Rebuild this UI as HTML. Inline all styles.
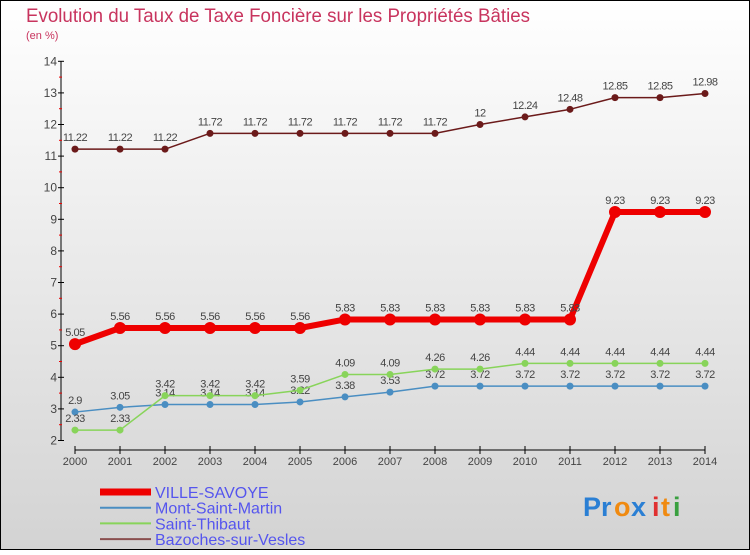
<!DOCTYPE html>
<html><head><meta charset="utf-8"><style>
html,body{margin:0;padding:0;}
body{width:750px;height:550px;overflow:hidden;font-family:"Liberation Sans",sans-serif;}
</style></head><body>
<svg id="chart" width="750" height="550" xmlns="http://www.w3.org/2000/svg" font-family="Liberation Sans, sans-serif">
<defs><linearGradient id="bg" x1="0" y1="0" x2="0" y2="1"><stop offset="0" stop-color="#ffffff"/><stop offset="1" stop-color="#d3d3d3"/></linearGradient></defs>
<rect x="0.5" y="0.5" width="749" height="549" fill="url(#bg)" stroke="#000" stroke-width="1"/>
<text x="26" y="22" font-size="19" fill="#c8345e" textLength="504" lengthAdjust="spacingAndGlyphs">Evolution du Taux de Taxe Foncière sur les Propriétés Bâties</text>
<text x="26" y="39" font-size="11" fill="#c8345e">(en %)</text>
<g id="axes"></g>
<g id="series"></g>
<g id="legend"></g>
<g font-size="27" font-weight="bold">
<text x="583" y="516" fill="#2a7fd4">Pr</text><text x="614" y="516" fill="#f08a10">o</text><text x="631" y="516" fill="#2a7fd4">x</text><text x="652" y="516" fill="#e03030">i</text><text x="661" y="516" fill="#f08a10">t</text><text x="673" y="516" fill="#3aa040">i</text>
</g>
</svg>
<script>
const years=[2000,2001,2002,2003,2004,2005,2006,2007,2008,2009,2010,2011,2012,2013,2014];
const yTicks=[2,3,4,5,6,7,8,9,10,11,12,13,14];
const villeSavoye=[5.05,5.56,5.56,5.56,5.56,5.56,5.83,5.83,5.83,5.83,5.83,5.83,9.23,9.23,9.23];
const montSaintMartin=[2.9,3.05,3.14,3.14,3.14,3.22,3.38,3.53,3.72,3.72,3.72,3.72,3.72,3.72,3.72];
const saintThibaut=[2.33,2.33,3.42,3.42,3.42,3.59,4.09,4.09,4.26,4.26,4.44,4.44,4.44,4.44,4.44];
const bazoches=[11.22,11.22,11.22,11.72,11.72,11.72,11.72,11.72,11.72,12,12.24,12.48,12.85,12.85,12.98];
const NS="http://www.w3.org/2000/svg";
const x=i=>75+i*(630/(years.length-1));
const y=v=>440.5-(v-2)*(379.2/12);
function mk(parent,tag,attrs,text){const e=document.createElementNS(NS,tag);for(const k in attrs)e.setAttribute(k,attrs[k]);if(text!==undefined)e.textContent=text;parent.appendChild(e);return e;}
const ax=document.getElementById('axes');
let e=mk(ax,'line',{x1:61,y1:y(14),x2:61,y2:y(2),stroke:'#000'});


e=mk(ax,'line',{x1:x(0),y1:450,x2:x(14),y2:450,stroke:'#000'});


yTicks.forEach(t=>{
 mk(ax,'line',{x1:58,y1:y(t),x2:64,y2:y(t),stroke:'#000'});
 if(t<14) mk(ax,'line',{x1:59,y1:y(t+0.5),x2:62,y2:y(t+0.5),stroke:'#e00'});
 const l=mk(ax,'text',{x:57,y:y(t)+4,'font-size':12,fill:'#444','text-anchor':'end'},t);
 
 
});
years.forEach((yr,i)=>{
 mk(ax,'line',{x1:x(i),y1:446,x2:x(i),y2:454,stroke:'#000'});
 const l=mk(ax,'text',{x:x(i),y:465,'font-size':11,fill:'#444','text-anchor':'middle'},yr);
 
 
});
const sg=document.getElementById('series');
function series(name,vals,color,lw,r){
 const g=mk(sg,'g',{});
 
 
 mk(g,'polyline',{points:vals.map((v,i)=>x(i)+','+y(v)).join(' '),fill:'none',stroke:color,'stroke-width':lw,'stroke-linejoin':'round'});
 vals.forEach((v,i)=>{
  const c=mk(g,'circle',{cx:x(i),cy:y(v),r:r,fill:color});
  
  
  const t=mk(g,'text',{x:x(i),y:y(v)-8,'font-size':11,fill:'#444','text-anchor':'middle','letter-spacing':'-0.5'},String(v));
  
  
 });
}
series('bazoches-sur-vesles',bazoches,'#6b1a1a',1.5,3.5);
series('mont-saint-martin',montSaintMartin,'#4a8ec2',1.5,3.5);
series('saint-thibaut',saintThibaut,'#88d45a',1.5,3.5);
series('ville-savoye',villeSavoye,'#ee0000',6,6);
const lg=document.getElementById('legend');
const leg=[['VILLE-SAVOYE','#ee0000',7],['Mont-Saint-Martin','#4a8ec2',2],['Saint-Thibaut','#88d45a',2],['Bazoches-sur-Vesles','#8a4f4f',2]];
leg.forEach((d,i)=>{
 const g=mk(lg,'g',{});
 
 
 const yy=492+i*15.7;
 mk(g,'line',{x1:100,y1:yy,x2:151,y2:yy,stroke:d[1],'stroke-width':d[2]});
 mk(g,'text',{x:155,y:yy+6,'font-size':16,fill:'#5555ee'},d[0]);
});
</script>
</body></html>
